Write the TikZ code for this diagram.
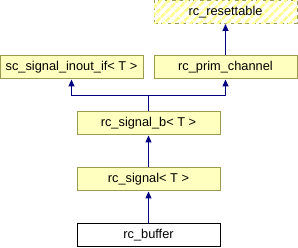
\documentclass[tikz,border=0pt]{standalone}
\usepackage{fontspec}
\setmainfont{Liberation Sans}
\usetikzlibrary{arrows.meta, patterns.meta}

\definecolor{boxfill}{HTML}{FFFFC0}
\definecolor{boxline}{HTML}{9A9A50}
\definecolor{hatch}{HTML}{FFFF90}
\definecolor{inherit}{HTML}{000080}

\begin{document}
\begin{tikzpicture}[
		x=1pt, y=-1pt,
		cls/.style={draw=boxline, fill=boxfill, line width=1pt, rectangle, minimum width=143pt, minimum height=23pt, inner sep=0pt, font=\fontsize{12.8pt}{15pt}\selectfont},
		ext/.style={cls, dash pattern=on 4pt off 3pt, fill=white, postaction={pattern={Lines[angle=45, distance=6.5pt, line width=3pt]}, pattern color=hatch}},
		leaf/.style={cls, draw=black, fill=white},
		arr/.style={-{Triangle[length=7pt, width=6pt]}, draw=inherit, line width=1pt},
	]
	\useasboundingbox (0,0) rectangle (298,248);
	\node[ext]  (reset)  at (225.5,12)   {rc\_resettable};
	\node[cls]  (inout)  at (71.5,67.5)  {sc\_signal\_inout\_if< T >};
	\node[cls]  (prim)   at (225.5,67.5) {rc\_prim\_channel};
	\node[cls]  (sigb)   at (148.5,123.5) {rc\_signal\_b< T >};
	\node[cls]  (sig)    at (148.5,179.5) {rc\_signal< T >};
	\node[leaf] (buffer) at (148.5,235.5) {rc\_buffer};
	\coordinate (bus) at (148.5,96);
	% inheritance arrows
	\draw[arr] (prim.north) -- (reset.south);
	\draw[arr] (sigb.north) -- (bus) -| (inout.south);
	\draw[arr] (bus) -| (prim.south);
	\draw[arr] (sig.north) -- (sigb.south);
	\draw[arr] (buffer.north) -- (sig.south);
\end{tikzpicture}
\end{document}
